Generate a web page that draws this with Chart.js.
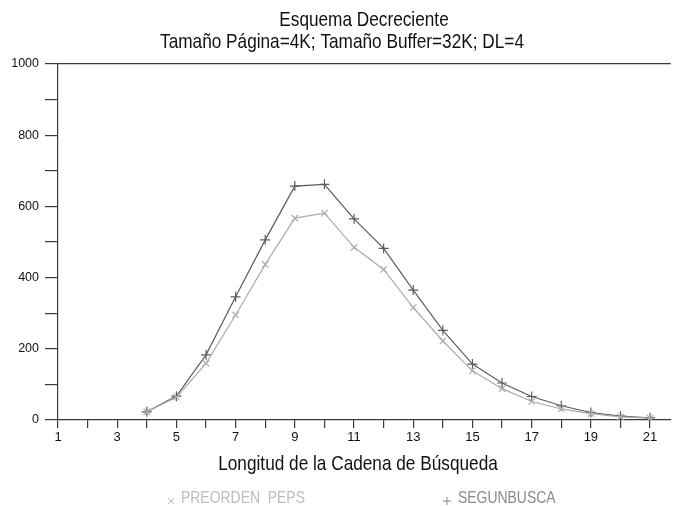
<!DOCTYPE html>
<html>
<head>
<meta charset="utf-8">
<script src="https://cdn.jsdelivr.net/npm/chart.js@4.4.1/dist/chart.umd.min.js"></script>
<style>
  html, body { margin: 0; padding: 0; background: #fff; }
  #wrap { position: relative; width: 677px; height: 506px; }
</style>
</head>
<body>
<div id="wrap"><canvas id="c" width="677" height="506"></canvas></div>
<script>
// ---- data ----
const lengths = [4, 5, 6, 7, 8, 9, 10, 11, 12, 13, 14, 15, 16, 17, 18, 19, 20, 21];
const preordenPeps = [23, 64, 159, 295, 437, 567, 581, 485, 423, 316, 222, 138, 88, 52, 31, 18, 9, 5];
const segunbusca   = [23, 67, 183, 346, 506, 657, 662, 565, 482, 365, 252, 157, 104, 66, 40, 21, 11, 6];
const seriesNames = ['PREORDEN  PEPS', 'SEGUNBUSCA'];
const titleLines = ['Esquema Decreciente', 'Tamaño Página=4K; Tamaño Buffer=32K; DL=4'];
const xAxisTitle = 'Longitud de la Cadena de Búsqueda';
const yTickMax = 1000;

const FONT = "'Liberation Sans',Arial,sans-serif";
const NARROW = 0.82;
const AXIS = '#3a3a3a';
const DARK = '#5c5c5c';
const LIGHT = '#ababab';

function narrowText(ctx, text, x, y, align) {
  ctx.save();
  ctx.translate(x, y);
  ctx.scale(NARROW, 1);
  ctx.textAlign = align;
  ctx.fillText(text, 0, 0);
  ctx.restore();
}

const textPlugin = {
  id: 'texts',
  afterDraw(chart) {
    const ctx = chart.ctx;
    ctx.save();
    ctx.textBaseline = 'middle';
    ctx.fillStyle = '#111';
    ctx.font = '21px ' + FONT;
    narrowText(ctx, titleLines[0], 364, 20, 'center');
    narrowText(ctx, titleLines[1], 342, 42, 'center');
    narrowText(ctx, xAxisTitle, 358, 464, 'center');
    // legend
    ctx.font = '17px ' + FONT;
    ctx.fillStyle = '#bdbdbd';
    narrowText(ctx, seriesNames[0], 181, 498, 'left');
    ctx.fillStyle = '#8a8a8a';
    narrowText(ctx, seriesNames[1], 458, 498, 'left');
    // legend markers
    ctx.lineWidth = 1;
    ctx.strokeStyle = '#bdbdbd';
    ctx.beginPath();
    ctx.moveTo(168, 498); ctx.lineTo(174, 504);
    ctx.moveTo(174, 498); ctx.lineTo(168, 504);
    ctx.stroke();
    ctx.strokeStyle = '#8a8a8a';
    ctx.beginPath();
    ctx.moveTo(443, 501); ctx.lineTo(451, 501);
    ctx.moveTo(447, 497); ctx.lineTo(447, 505);
    ctx.stroke();
    ctx.restore();
  }
};

const toPts = arr => arr.map((v, i) => ({ x: lengths[i], y: v }));

new Chart(document.getElementById('c'), {
  type: 'line',
  data: {
    datasets: [
      {
        label: seriesNames[0],
        data: toPts(preordenPeps),
        borderColor: LIGHT,
        backgroundColor: LIGHT,
        borderWidth: 1.2,
        pointStyle: 'crossRot',
        pointRadius: 4.5,
        pointBorderWidth: 1.2,
        pointBorderColor: LIGHT,
        tension: 0,
        fill: false
      },
      {
        label: seriesNames[1],
        data: toPts(segunbusca),
        borderColor: DARK,
        backgroundColor: DARK,
        borderWidth: 1.2,
        pointStyle: 'cross',
        pointRadius: 5,
        pointBorderWidth: 1.2,
        pointBorderColor: DARK,
        tension: 0,
        fill: false
      }
    ]
  },
  options: {
    responsive: false,
    animation: false,
    devicePixelRatio: 1,
    layout: { padding: { top: 64, right: 0, left: 0, bottom: 0 } },
    plugins: {
      legend: { display: false },
      title: { display: false },
      tooltip: { enabled: false }
    },
    scales: {
      x: {
        type: 'linear',
        min: 1,
        max: 21.7,
        afterFit(scale) { scale.height = 86; },
        ticks: {
          stepSize: 1,
          autoSkip: false,
          includeBounds: false,
          maxRotation: 0,
          padding: 2,
          color: '#111',
          font: { family: FONT, size: 13 },
          callback: v => (v % 2 === 1 ? String(v) : '')
        },
        grid: {
          drawOnChartArea: false,
          drawTicks: true,
          tickLength: 8,
          color: AXIS,
          tickColor: AXIS,
          lineWidth: 1.2
        },
        border: { display: true, color: AXIS, width: 1.2 }
      },
      y: {
        type: 'linear',
        min: 0,
        max: yTickMax,
        afterFit(scale) { scale.width = 58; },
        ticks: {
          stepSize: 100,
          autoSkip: false,
          padding: 6,
          color: '#111',
          font: { family: FONT, size: 12.5 },
          callback: v => (v % 200 === 0 ? String(v) : '')
        },
        grid: {
          drawOnChartArea: true,
          drawTicks: true,
          tickLength: 13,
          color: ctx => (ctx.tick && ctx.tick.value === yTickMax ? AXIS : 'rgba(0,0,0,0)'),
          tickColor: AXIS,
          lineWidth: 1.2
        },
        border: { display: true, color: AXIS, width: 1.2 }
      }
    }
  },
  plugins: [textPlugin]
});
</script>
</body>
</html>
